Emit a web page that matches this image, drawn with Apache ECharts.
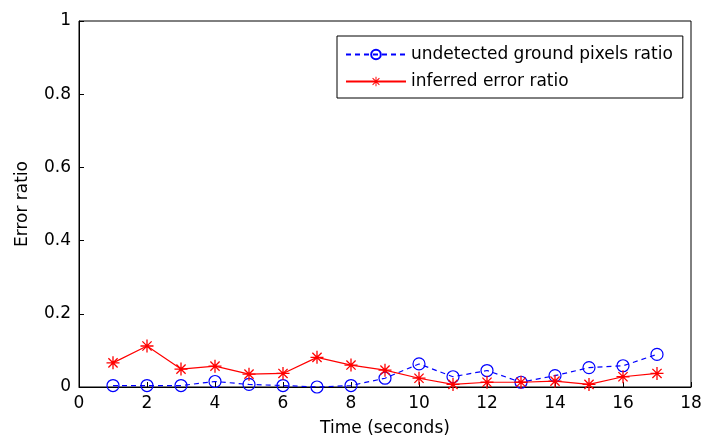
<!DOCTYPE html>
<html><head><meta charset="utf-8">
<script src="https://cdn.jsdelivr.net/npm/echarts@6/dist/echarts.min.js"></script>
<style>html,body{margin:0;padding:0;background:#fff}#c{width:702px;height:439px}</style>
</head><body><div id="c"></div>
<script>
var times = [1,2,3,4,5,6,7,8,9,10,11,12,13,14,15,16,17];
var undetected = [0.004,0.004,0.004,0.015,0.007,0.004,0.000,0.004,0.024,0.063,0.028,0.045,0.013,0.031,0.053,0.058,0.089];
var inferred = [0.066,0.112,0.049,0.057,0.035,0.037,0.081,0.060,0.046,0.024,0.007,0.013,0.013,0.016,0.007,0.028,0.037];
var seriesNames = ['undetected ground pixels ratio','inferred error ratio'];

var star = 'path://M-0.1,-1 L0.1,-1 L0.1,1 L-0.1,1 Z M-1,-0.1 L1,-0.1 L1,0.1 L-1,0.1 Z M-0.78,-0.64 L-0.64,-0.78 L0.78,0.64 L0.64,0.78 Z M0.64,-0.78 L0.78,-0.64 L-0.64,0.78 L-0.78,0.64 Z';
function pairs(v){return times.map(function(t,i){return [t,v[i]];});}
var font = 'DejaVu Sans, sans-serif';
var chart = echarts.init(document.getElementById('c'));
chart.setOption({
  animation:false,
  backgroundColor:'#fff',
  grid:{left:79,top:21,right:11,bottom:52,show:true,borderColor:'#000',borderWidth:1,containLabel:false,outerBoundsMode:'none'},
  xAxis:{type:'value',min:0,max:18,interval:2,
    name:'Time (seconds)',nameLocation:'middle',nameGap:33,
    nameTextStyle:{fontFamily:font,fontSize:17,color:'#000'},
    axisLine:{show:true,lineStyle:{color:'#000'}},
    axisTick:{show:true,inside:true,length:5,lineStyle:{color:'#000'}},
    axisLabel:{fontFamily:font,fontSize:17,color:'#000',margin:8},
    splitLine:{show:false}},
  yAxis:{type:'value',min:0,max:1,interval:0.2,
    name:'Error ratio',nameLocation:'middle',nameGap:48,
    nameTextStyle:{fontFamily:font,fontSize:17,color:'#000'},
    axisLine:{show:true,lineStyle:{color:'#000'}},
    axisTick:{show:true,inside:true,length:5,lineStyle:{color:'#000'}},
    axisLabel:{fontFamily:font,fontSize:17,color:'#000',margin:8,
      formatter:function(v){return v===0?'0':(v===1?'1':v.toFixed(1));}},
    splitLine:{show:false}},
  legend:{
    orient:'vertical',left:337,top:36,
    backgroundColor:'#fff',borderColor:'#000',borderWidth:1,
    padding:[10,10,8,8],itemGap:10,itemWidth:60,itemHeight:12,
    textStyle:{fontFamily:font,fontSize:17,color:'#000'},
    data:seriesNames
  },
  series:[
    {name:seriesNames[0],type:'line',data:pairs(undetected),
     symbol:'circle',symbolSize:12,
     itemStyle:{color:'rgba(0,0,0,0)',borderColor:'#0000ff',borderWidth:1.2},
     lineStyle:{color:'#0000ff',width:1.2,type:[5,4]}},
    {name:seriesNames[1],type:'line',data:pairs(inferred),
     symbol:star,symbolSize:13,
     itemStyle:{color:'#ff0000'},
     lineStyle:{color:'#ff0000',width:1.2}}
  ]
});
</script></body></html>
